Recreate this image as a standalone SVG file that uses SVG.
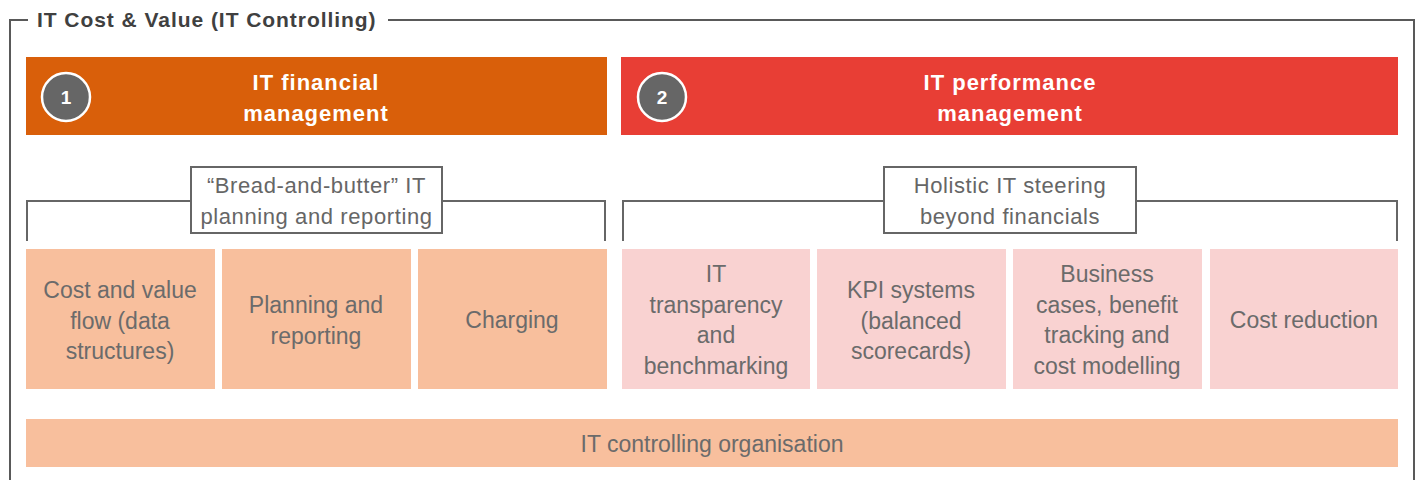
<svg xmlns="http://www.w3.org/2000/svg" width="1421" height="480" viewBox="0 0 1421 480">
  <style>
    .frame { fill: none; stroke: #595959; stroke-width: 2; }
    .title { font-family: "Liberation Sans", Arial, sans-serif; font-size: 21px; font-weight: bold; fill: #404040; letter-spacing: 0.95px; }
    .head { font-family: "Liberation Sans", Arial, sans-serif; font-size: 22px; font-weight: bold; fill: #ffffff; text-anchor: middle; letter-spacing: 1px; }
    .badge { fill: #666666; stroke: #ffffff; stroke-width: 2.5; }
    .badge-num { font-family: "Liberation Sans", Arial, sans-serif; font-size: 19px; font-weight: bold; fill: #ffffff; text-anchor: middle; }
    .bracket { fill: none; stroke: #666666; stroke-width: 2; }
    .label-box { fill: #ffffff; stroke: #666666; stroke-width: 2; }
    .label { font-family: "Liberation Sans", Arial, sans-serif; font-size: 22px; fill: #666666; text-anchor: middle; letter-spacing: 0.6px; }
    .item { font-family: "Liberation Sans", Arial, sans-serif; font-size: 23px; fill: #6b6b6b; text-anchor: middle; }
    .fin { fill: #F8BF9D; }
    .perf { fill: #F9D2D1; }
  </style>

  <!-- outer frame with title -->
  <g id="frame">
    <path class="frame" d="M10,480 V20 H28 M388,20 H1414 V480"/>
    <text class="title" x="37" y="27">IT Cost &amp; Value (IT Controlling)</text>
  </g>

  <!-- pillar headers -->
  <g id="header-financial">
    <rect x="26" y="57" width="581" height="78" fill="#D95F0A"/>
    <circle class="badge" cx="66" cy="97" r="24"/>
    <text class="badge-num" x="66" y="104">1</text>
    <text class="head" x="316" y="90">IT financial</text>
    <text class="head" x="316" y="121">management</text>
  </g>
  <g id="header-performance">
    <rect x="621" y="57" width="777" height="78" fill="#E83E35"/>
    <circle class="badge" cx="662" cy="97" r="24"/>
    <text class="badge-num" x="662" y="104">2</text>
    <text class="head" x="1010" y="90">IT performance</text>
    <text class="head" x="1010" y="121">management</text>
  </g>

  <!-- grouping brackets -->
  <g id="connectors">
    <path class="bracket" d="M27,241 V201 H605 V241"/>
    <path class="bracket" d="M623,241 V201 H1397 V241"/>
  </g>

  <g id="label-bread-and-butter">
    <rect class="label-box" x="191" y="167" width="251" height="66"/>
    <text class="label" x="316.5" y="193">“Bread-and-butter” IT</text>
    <text class="label" x="316.5" y="224">planning and reporting</text>
  </g>
  <g id="label-holistic">
    <rect class="label-box" x="884" y="167" width="252" height="66"/>
    <text class="label" x="1010" y="193">Holistic IT steering</text>
    <text class="label" x="1010" y="224">beyond financials</text>
  </g>

  <!-- financial management items -->
  <g id="item-cost-value-flow">
    <rect class="fin" x="26" y="249" width="189" height="140"/>
    <text class="item" x="120" y="298">Cost and value</text>
    <text class="item" x="120" y="329">flow (data</text>
    <text class="item" x="120" y="359">structures)</text>
  </g>
  <g id="item-planning-reporting">
    <rect class="fin" x="222" y="249" width="189" height="140"/>
    <text class="item" x="316" y="313">Planning and</text>
    <text class="item" x="316" y="344">reporting</text>
  </g>
  <g id="item-charging">
    <rect class="fin" x="418" y="249" width="189" height="140"/>
    <text class="item" x="512" y="328">Charging</text>
  </g>

  <!-- performance management items -->
  <g id="item-transparency">
    <rect class="perf" x="622" y="249" width="188" height="140"/>
    <text class="item" x="716" y="282">IT</text>
    <text class="item" x="716" y="313">transparency</text>
    <text class="item" x="716" y="343">and</text>
    <text class="item" x="716" y="374">benchmarking</text>
  </g>
  <g id="item-kpi">
    <rect class="perf" x="817" y="249" width="189" height="140"/>
    <text class="item" x="911" y="298">KPI systems</text>
    <text class="item" x="911" y="329">(balanced</text>
    <text class="item" x="911" y="359">scorecards)</text>
  </g>
  <g id="item-business-cases">
    <rect class="perf" x="1013" y="249" width="189" height="140"/>
    <text class="item" x="1107" y="282">Business</text>
    <text class="item" x="1107" y="313">cases, benefit</text>
    <text class="item" x="1107" y="343">tracking and</text>
    <text class="item" x="1107" y="374">cost modelling</text>
  </g>
  <g id="item-cost-reduction">
    <rect class="perf" x="1210" y="249" width="188" height="140"/>
    <text class="item" x="1304" y="328">Cost reduction</text>
  </g>

  <!-- foundation -->
  <g id="item-organisation">
    <rect class="fin" x="26" y="419" width="1372" height="48"/>
    <text class="item" x="712" y="452">IT controlling organisation</text>
  </g>
</svg>
